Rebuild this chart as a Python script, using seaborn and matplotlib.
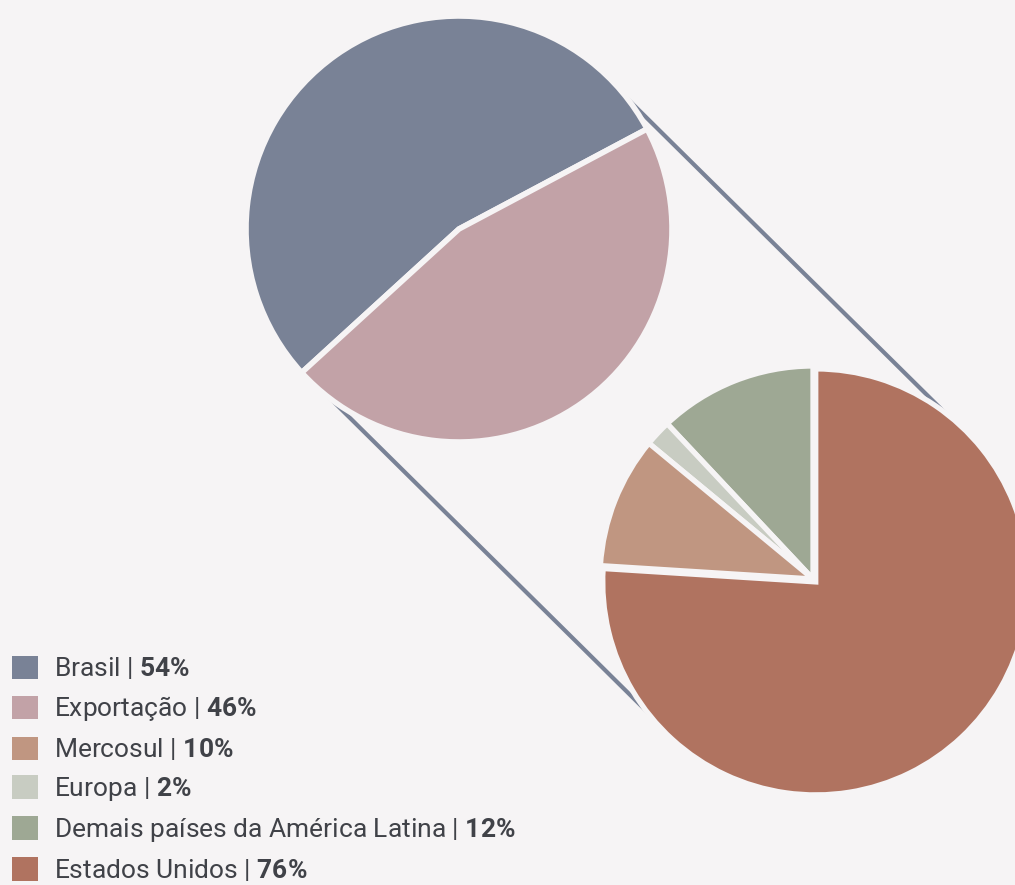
import math
import matplotlib
matplotlib.use('Agg')
import matplotlib.pyplot as plt
import seaborn as sns
from matplotlib.patches import Patch

# first pie: destination of production
main_labels = ['Brasil', 'Exportação']
main_values = [54, 46]
main_colors = ['#798296', '#c2a2a7']

# second pie: breakdown of exports
exp_labels = ['Demais países da América Latina', 'Europa', 'Mercosul', 'Estados Unidos']
exp_values = [12, 2, 10, 76]
exp_colors = ['#9ea894', '#c8ccc2', '#c09681', '#b07360']

legend_order = ['Brasil', 'Exportação', 'Mercosul', 'Europa',
                'Demais países da América Latina', 'Estados Unidos']

bg = '#f6f4f5'
txt = '#404248'

sns.set_theme(style='white')
plt.rcParams['font.family'] = ['Roboto', 'DejaVu Sans']
plt.rcParams['mathtext.fontset'] = 'custom'
plt.rcParams['mathtext.rm'] = 'Roboto'
plt.rcParams['mathtext.bf'] = 'Roboto:bold'

fig = plt.figure(figsize=(10.15, 8.85), dpi=100, facecolor=bg)
ax = fig.add_axes([0, 0, 1, 1])
ax.set_facecolor(bg)

# layout in pixel units
c1 = (459, 656)
c2 = (813, 306)
r = 213
r_vis = 211

ax.pie(main_values, colors=main_colors, startangle=28, counterclock=True,
       center=c1, radius=r,
       wedgeprops=dict(edgecolor=bg, linewidth=4, zorder=3))
ax.pie(exp_values, colors=exp_colors, startangle=90, counterclock=True,
       center=c2, radius=r, explode=[0, 0, 0, 4],
       wedgeprops=dict(edgecolor=bg, linewidth=3.8, zorder=3))

# connector lines: outer tangents between the two circles
dx, dy = c2[0] - c1[0], c2[1] - c1[1]
d = math.hypot(dx, dy)
nx, ny = -dy / d, dx / d
for s in (1, -1):
    ax.plot([c1[0] + s * r_vis * nx, c2[0] + s * r_vis * nx],
            [c1[1] + s * r_vis * ny, c2[1] + s * r_vis * ny],
            color=main_colors[0], lw=3, solid_capstyle='butt', zorder=1)

ax.set_xlim(0, 1015)
ax.set_ylim(0, 885)
ax.set_aspect('equal')
ax.axis('off')

color_map = dict(zip(main_labels + exp_labels, main_colors + exp_colors))
value_map = dict(zip(main_labels + exp_labels, main_values + exp_values))
handles = [Patch(facecolor=color_map[n], edgecolor='none') for n in legend_order]
labels = [f'{n} | $\\mathbf{{{value_map[n]}\\%}}$' for n in legend_order]
leg = fig.legend(handles, labels, loc='lower left',
                 bbox_to_anchor=(12 / 1015, 2 / 885), frameon=False,
                 fontsize=19, handlelength=0.98, handleheight=0.98,
                 handletextpad=0.6, labelspacing=0.49,
                 borderpad=0, borderaxespad=0)
for t in leg.get_texts():
    t.set_color(txt)

fig.savefig('out.png', dpi=100, facecolor=bg)
